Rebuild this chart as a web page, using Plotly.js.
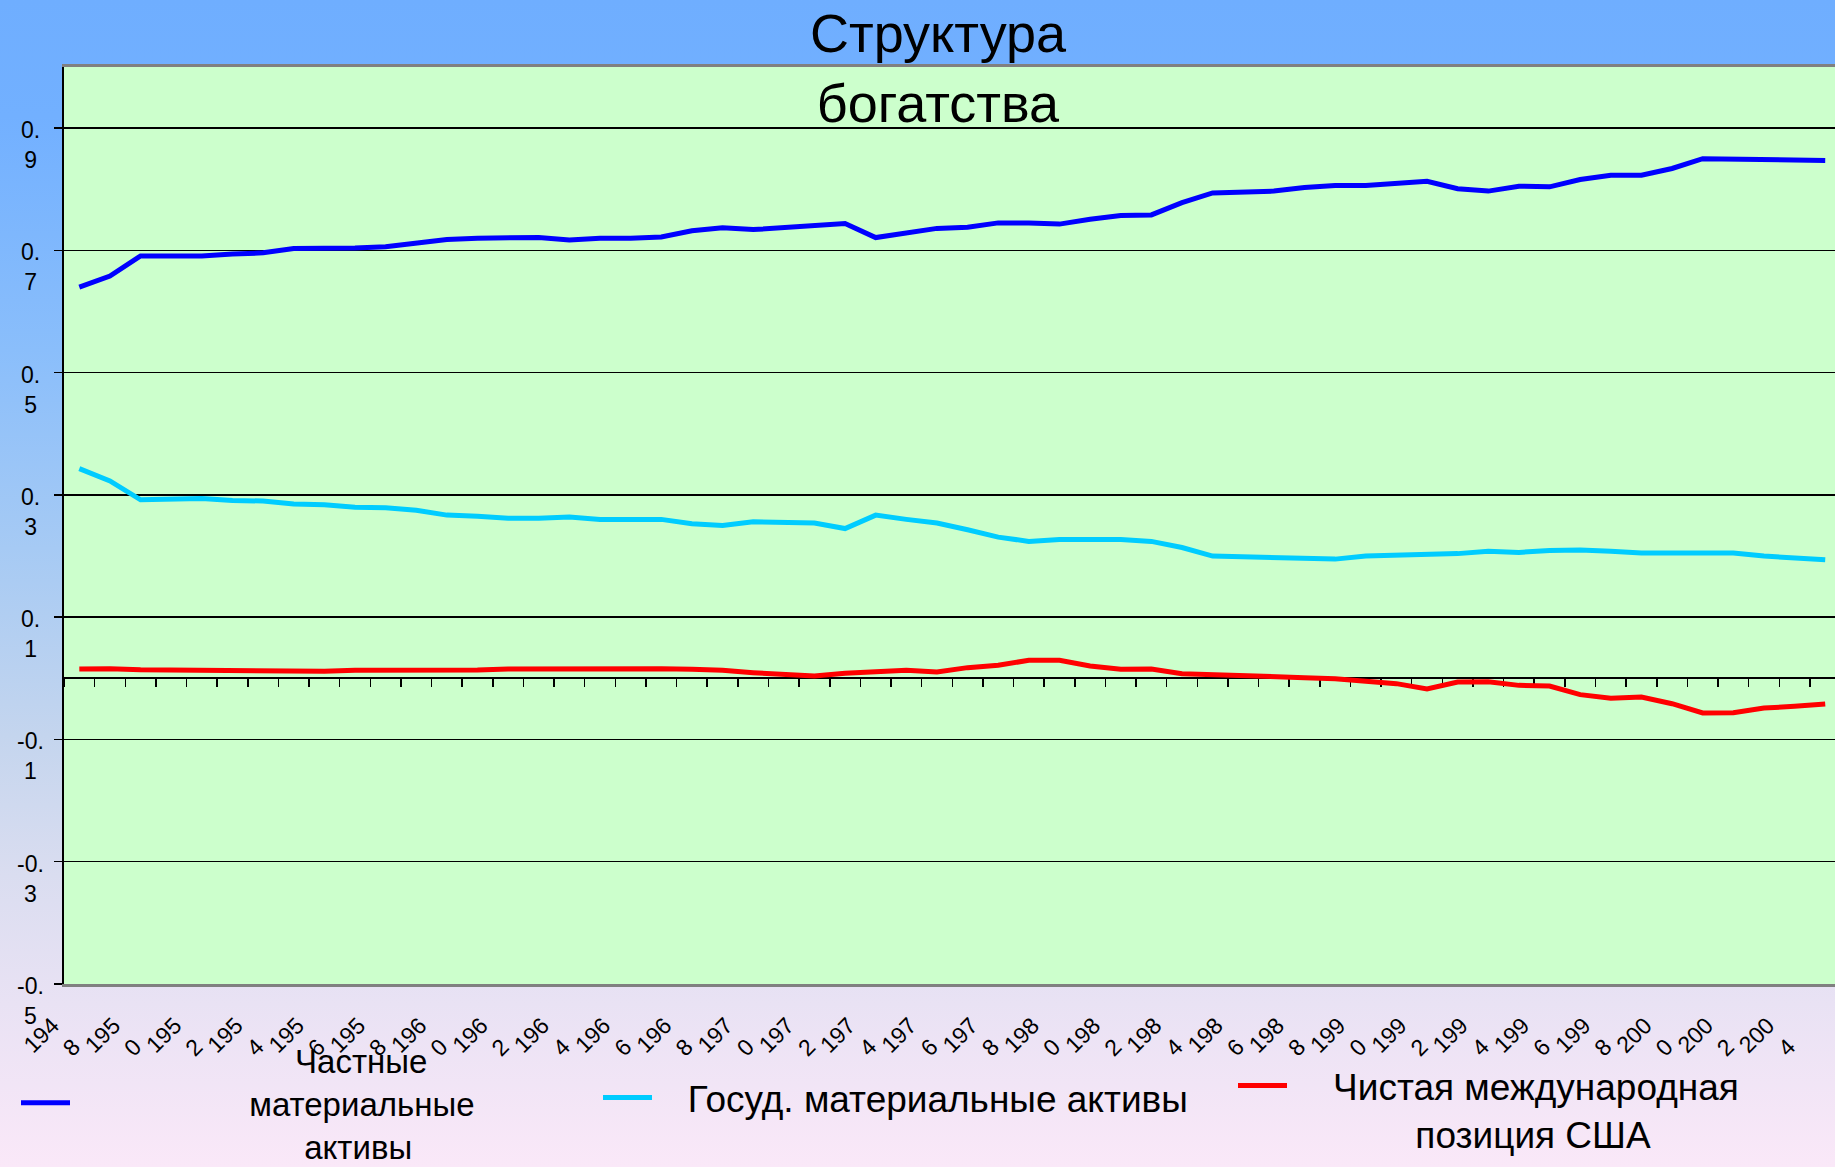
<!DOCTYPE html>
<html><head><meta charset="utf-8">
<script src="https://cdn.plot.ly/plotly-3.0.1.min.js"></script>
<style>
html,body{margin:0;padding:0;width:1835px;height:1167px;overflow:hidden;
background:linear-gradient(to bottom,#6FAEFF 0%,#72B0FF 10%,#8ABEFB 30%,#A6CAF4 47%,#C4D5EE 63%,#DADDF0 75%,#E9E2F4 86%,#FAE8F8 100%);}
#chart{width:1835px;height:1167px;}
</style></head><body><div id="chart"></div>
<script>
const years=[1948,1949,1950,1951,1952,1953,1954,1955,1956,1957,1958,1959,1960,1961,1962,1963,1964,1965,1966,1967,1968,1969,1970,1971,1972,1973,1974,1975,1976,1977,1978,1979,1980,1981,1982,1983,1984,1985,1986,1987,1988,1989,1990,1991,1992,1993,1994,1995,1996,1997,1998,1999,2000,2001,2002,2003,2004,2005];
const privateAssets=[0.640,0.658,0.691,0.691,0.691,0.694,0.696,0.703,0.703,0.704,0.706,0.712,0.718,0.720,0.721,0.721,0.717,0.720,0.720,0.722,0.732,0.737,0.734,0.737,0.741,0.744,0.721,0.728,0.736,0.738,0.745,0.745,0.743,0.751,0.757,0.758,0.778,0.794,0.796,0.797,0.803,0.806,0.806,0.809,0.813,0.801,0.797,0.805,0.804,0.816,0.823,0.823,0.834,0.850,0.849,0.847,0.848,0.847];
const govAssets=[0.343,0.323,0.292,0.292,0.294,0.291,0.290,0.285,0.284,0.280,0.279,0.275,0.267,0.265,0.262,0.262,0.264,0.260,0.260,0.260,0.253,0.250,0.256,0.256,0.254,0.245,0.267,0.260,0.254,0.243,0.231,0.224,0.227,0.227,0.227,0.224,0.214,0.200,0.199,0.199,0.196,0.195,0.200,0.201,0.204,0.204,0.208,0.206,0.209,0.210,0.208,0.205,0.205,0.205,0.205,0.200,0.198,0.194];
const netPosition=[0.0153,0.0158,0.0142,0.0137,0.0131,0.0131,0.0120,0.0115,0.0115,0.0131,0.0131,0.0120,0.0137,0.0137,0.0153,0.0153,0.0164,0.0169,0.0169,0.0158,0.0147,0.0131,0.0093,0.0065,0.0038,0.0082,0.0115,0.0131,0.0104,0.0175,0.0213,0.0295,0.0295,0.0202,0.0147,0.0153,0.0076,0.0055,0.0049,0.0027,0.0011,-0.0005,-0.0049,-0.0087,-0.0175,-0.0060,-0.0055,-0.0115,-0.0126,-0.0267,-0.0327,-0.0305,-0.0415,-0.0567,-0.0562,-0.0486,-0.0458,-0.0420];
const NB='\u00A0';
const seriesNames=[
  NB.repeat(24)+'Частные<br>'+NB.repeat(19)+'материальные<br>'+NB.repeat(25)+'активы',
  NB.repeat(3)+'Госуд. материальные активы',
  NB.repeat(4)+'Чистая международная<br>'+NB.repeat(12)+'позиция США'
];
const seriesColors=['#0000FF','#00CCFF','#FF0000'];
const titleText='Структура<br>богатства';
const yTickVals=[-0.5,-0.3,-0.1,0.1,0.3,0.5,0.7,0.9];
const yTickText=['-0.<br>5','-0.<br>3','-0.<br>1','0.<br>1','0.<br>3','0.<br>5','0.<br>7','0.<br>9'];
const xLabelYears=[1948,1950,1952,1954,1956,1958,1960,1962,1964,1966,1968,1970,1972,1974,1976,1978,1980,1982,1984,1986,1988,1990,1992,1994,1996,1998,2000,2002,2004];
const xLabelText=xLabelYears.map(y=>String(y).slice(0,3)+'<br>'+String(y).slice(3));

const FONT='Liberation Sans, Arial, sans-serif';
const W=1835,H=1167,ML=64,MT=67,MB=183;
const yRange=[-0.5,1.0];
const xRange=[years[0]-0.5, years[0]-0.5+(W-ML)/30.63];
const boundaries=years.map(y=>y-0.5).concat([years[years.length-1]+0.5]);

const seriesVals=[privateAssets,govAssets,netPosition];
const legendNames=['legend','legend2','legend3'];
const traces=seriesVals.map((v,i)=>({
  x:years,y:v,type:'scatter',mode:'lines',name:seriesNames[i],
  line:{color:seriesColors[i],width:5},legend:legendNames[i],hoverinfo:'x+y'
}));
traces.push({x:years,y:years.map(()=>null),xaxis:'x2',yaxis:'y',type:'scatter',mode:'lines',showlegend:false,hoverinfo:'skip'});

const annotations=yTickVals.map((v,i)=>({
  x:-34/(W-ML),xref:'paper',y:v,yref:'y',text:yTickText[i],showarrow:false,
  xanchor:'center',yanchor:'top',yshift:13,align:'center',
  font:{family:FONT,size:23,color:'#000'}
}));

const legBase={xref:'container',yref:'container',xanchor:'left',yanchor:'top',orientation:'v',
  valign:'top',bgcolor:'rgba(0,0,0,0)',borderwidth:0,itemwidth:49,font:{family:FONT,size:37,color:'#000'}};

const layout={
  width:W,height:H,
  margin:{l:ML,r:0,t:MT,b:MB,pad:0,autoexpand:false},
  paper_bgcolor:'rgba(0,0,0,0)',
  plot_bgcolor:'#CCFFCC',
  font:{family:FONT,color:'#000'},
  title:{text:titleText,x:938/W,xref:'container',xanchor:'center',y:1-52/H,yref:'container',yanchor:'middle',
    font:{family:FONT,size:54,color:'#000'}},
  showlegend:true,
  legend:Object.assign({},legBase,{x:16/W,y:1-1032/H,valign:'middle',font:{family:FONT,size:33,color:'#000'}}),
  legend2:Object.assign({},legBase,{x:598/W,y:1-1067/H}),
  legend3:Object.assign({},legBase,{x:1233/W,y:1-1055/H}),
  xaxis:{range:xRange,tickmode:'array',tickvals:xLabelYears,ticktext:xLabelText,tickangle:-45,
    ticklabelshift:-27,ticklabelstandoff:16,
    ticks:'',showgrid:false,zeroline:false,showline:true,linecolor:'#808080',linewidth:3,mirror:true,
    tickfont:{family:FONT,size:23,color:'#000'},fixedrange:true,automargin:false},
  xaxis2:{overlaying:'x',matches:'x',anchor:'free',position:(0-yRange[0])/(yRange[1]-yRange[0]),side:'bottom',
    tickmode:'array',tickvals:boundaries,showticklabels:false,ticks:'outside',ticklen:8,tickwidth:1.5,tickcolor:'#000',
    showline:true,linecolor:'#000',linewidth:2,showgrid:false,zeroline:false,layer:'below traces',automargin:false},
  yaxis:{range:yRange,tickmode:'array',tickvals:yTickVals,showticklabels:false,ticks:'outside',ticklen:8,
    tickwidth:1.5,tickcolor:'#000',showgrid:true,gridcolor:'#000',gridwidth:1.5,zeroline:false,
    showline:true,linecolor:'#000',linewidth:2,fixedrange:true,automargin:false},
  annotations:annotations
};
Plotly.newPlot('chart',traces,layout,{displayModeBar:false,staticPlot:true});
</script></body></html>
